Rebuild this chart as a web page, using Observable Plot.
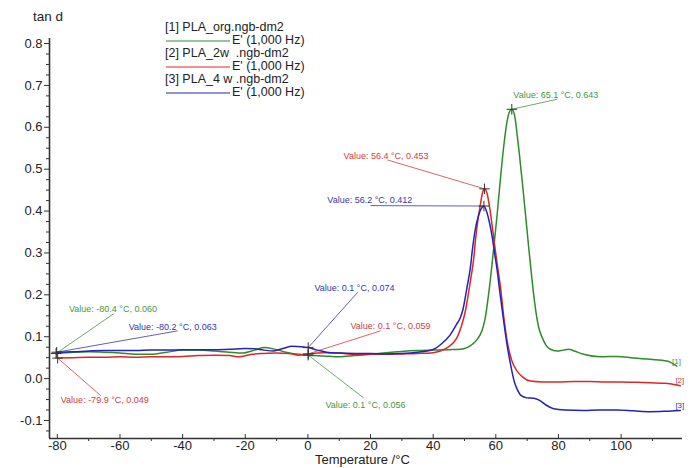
<!DOCTYPE html>
<html><head><meta charset="utf-8">
<script src="https://cdn.jsdelivr.net/npm/d3@7"></script>
<script src="https://cdn.jsdelivr.net/npm/@observablehq/plot@0.6"></script>
<style>
body{margin:0;background:#fff;}
#chart svg{display:block;}
</style></head><body><div id="chart"></div>
<script>
// ---- data ----
const seriesNames = ["[1] PLA_org.ngb-dm2", "[2] PLA_2w  .ngb-dm2", "[3] PLA_4 w .ngb-dm2"];
const seriesSub = "E' (1,000 Hz)";
const endTags = ["[1]", "[2]", "[3]"];
const colors = ["#2e8b2e", "#e02626", "#2323b8"];
const annColors = ["#3f973f", "#d23c3c", "#3636ac"];

const greenT = [-80.4,-75,-70,-65,-60,-55,-50,-45,-40,-35,-30,-25,-21,-17,-14,-11,-7,-3,0.1,5,10,15,20,25,30,35,40,45,48.7,50.8,52.5,54,55.6,56.5,58,59.3,60.4,61.5,62.5,63.5,64.3,65.1,66,67,68.4,69.5,70.5,71.5,72.6,73.6,74.8,76,77.4,79.5,81.5,83.3,85,88,93.4,98.7,104,109.3,114.6,117.8];
const greenV = [0.060,0.063,0.064,0.063,0.061,0.058,0.058,0.063,0.068,0.068,0.066,0.063,0.061,0.068,0.074,0.071,0.063,0.058,0.056,0.054,0.052,0.055,0.058,0.062,0.065,0.067,0.068,0.069,0.070,0.074,0.082,0.093,0.115,0.14,0.22,0.31,0.39,0.48,0.553,0.61,0.636,0.643,0.628,0.57,0.473,0.39,0.313,0.24,0.17,0.125,0.098,0.08,0.070,0.066,0.068,0.070,0.066,0.058,0.052,0.053,0.049,0.046,0.042,0.030];

const redT = [-79.9,-75,-70,-65,-60,-55,-50,-45,-40,-35,-30,-25,-22,-18,-14,-10,-6,-3,0.1,5,10,15,20,25,30,35,40,42.3,44.5,46.5,47.6,49,50.3,51.9,53,53.5,54.3,55.1,55.8,56.4,57.2,58.2,59.3,60.4,61.5,62.5,63.6,65,66.8,68.5,71,75,80,85,90,95,100,105,109.3,114,118.9];
const redV = [0.049,0.050,0.051,0.051,0.052,0.051,0.052,0.052,0.053,0.055,0.056,0.055,0.052,0.058,0.060,0.061,0.060,0.056,0.059,0.062,0.061,0.058,0.058,0.058,0.059,0.060,0.062,0.066,0.074,0.086,0.098,0.125,0.162,0.234,0.290,0.33,0.38,0.417,0.445,0.453,0.442,0.40,0.337,0.275,0.218,0.15,0.090,0.045,0.018,0.004,-0.006,-0.008,-0.008,-0.007,-0.007,-0.008,-0.008,-0.009,-0.010,-0.011,-0.017];

const blueT = [-80.2,-75,-70,-65,-60,-55,-50,-45,-40,-35,-30,-25,-20,-17,-14,-11,-8,-5,-2,0.1,3,6,10,15,20,25,30,35,38,40.2,42.5,45.5,47.5,48.7,49.5,50.8,51.9,52.4,53.3,54.5,55.3,56.2,57,57.9,58.8,59.6,60.4,61.4,62.5,63.6,64.7,66,66.8,68,70,72.1,74,76,78.5,82,88,93,98.7,104,109.3,114,118.9];
const blueV = [0.063,0.064,0.066,0.067,0.067,0.067,0.068,0.068,0.069,0.069,0.069,0.070,0.072,0.071,0.068,0.066,0.072,0.077,0.076,0.074,0.068,0.063,0.061,0.060,0.060,0.059,0.060,0.063,0.066,0.070,0.082,0.105,0.13,0.146,0.165,0.218,0.266,0.300,0.35,0.39,0.405,0.412,0.40,0.375,0.340,0.300,0.260,0.20,0.138,0.08,0.034,-0.010,-0.025,-0.040,-0.046,-0.047,-0.052,-0.063,-0.072,-0.075,-0.076,-0.075,-0.075,-0.077,-0.079,-0.078,-0.076];

// annotations: series index, point, label anchor, leader-line end
const annSeries = [0, 1, 2, 0, 2, 1, 2, 1, 0];
const annText = ["Value: 65.1 °C, 0.643","Value: 56.4 °C, 0.453","Value: 56.2 °C, 0.412","Value: -80.4 °C, 0.060","Value: -80.2 °C, 0.063","Value: -79.9 °C, 0.049","Value: 0.1 °C, 0.074","Value: 0.1 °C, 0.059","Value: 0.1 °C, 0.056"];
const annPT = [65.1, 56.4, 56.2, -80.4, -80.2, -79.9, 0.1, 0.1, 0.1];
const annPV = [0.643, 0.453, 0.412, 0.060, 0.063, 0.049, 0.074, 0.059, 0.056];
const annLT = [65.6, 11.4, 6.2, -76.3, -57.2, -78.9, 2.1, 13.6, 5.6];
const annLV = [0.678, 0.532, 0.425, 0.167, 0.124, -0.052, 0.215, 0.126, -0.063];
const annET = [79.6, 25.4, 20.0, -62.0, -41.6, -66.1, 15.9, 23.2, 17.8];
const annEV = [0.667, 0.522, 0.413, 0.155, 0.114, -0.041, 0.206, 0.114, -0.046];

const xDomain = [-82.5, 119.6];
const yDomain = [-0.143, 0.812];
const xMajor = [-80,-60,-40,-20,0,20,40,60,80,100];
const xMinor = [-70,-50,-30,-10,10,30,50,70,90,110];
const yMajor = [-0.1,0.0,0.1,0.2,0.3,0.4,0.5,0.6,0.7,0.8];
const yMinor = d3.range(-0.125, 0.81, 0.025).filter(v => Math.abs(Math.round(v*10) - v*10) > 0.01);

// ---- build ----
const series = [[greenT, greenV], [redT, redV], [blueT, blueV]].map(([T, V], s) =>
  T.map((t, i) => ({T: t, v: V[i], s})));
const ann = annText.map((t, i) => ({text: t, s: annSeries[i], pt: annPT[i], pv: annPV[i], lt: annLT[i], lv: annLV[i], et: annET[i], ev: annEV[i]}));
const ends = series.map((rows, s) => ({...rows[rows.length - 1], tag: endTags[s]}));

const font = "'Liberation Sans', Arial, sans-serif";
const marks = [
  Plot.axisY({ticks: yMinor, tickSize: 3, tickFormat: () => "", label: null, stroke: "#333"}),
  Plot.axisY({ticks: yMajor, tickSize: 5, tickPadding: 2, tickFormat: d => d.toFixed(1), label: null, fontSize: 13, stroke: "#333"}),
  Plot.axisX({ticks: xMinor, tickSize: 3, tickFormat: () => "", label: null, stroke: "#333"}),
  Plot.axisX({ticks: xMajor, tickSize: 5, tickPadding: 1, dy: -4, tickFormat: d => String(d), label: null, fontSize: 13, stroke: "#333"}),
  Plot.ruleX([xDomain[0]], {stroke: "#333", strokeWidth: 1.6}),
  Plot.ruleY([yDomain[0]], {stroke: "#333", strokeWidth: 1.6}),
  Plot.link(ann, {x1: "pt", y1: "pv", x2: "et", y2: "ev", stroke: d => annColors[d.s], strokeWidth: 0.8}),
  ...series.map((rows, s) => Plot.line(rows, {x: "T", y: "v", stroke: colors[s], strokeWidth: 1.5, curve: "monotone-x"})),
  Plot.dot(ann, {x: "pt", y: "pv", symbol: "plus", r: 3.5, stroke: "#333", strokeWidth: 1}),
  Plot.text(ann, {x: "lt", y: "lv", text: "text", fill: d => annColors[d.s], textAnchor: "start", fontSize: 9}),
  Plot.text(ends, {x: "T", y: "v", text: "tag", fill: d => annColors[d.s], textAnchor: "end", dx: 4, dy: -5, fontSize: 8})
];

const chart = Plot.plot({
  width: 693, height: 468,
  marginLeft: 49, marginRight: 11, marginTop: 38, marginBottom: 30,
  x: {domain: xDomain},
  y: {domain: yDomain},
  style: {fontFamily: font, background: "#fff", color: "#222", overflow: "visible"},
  marks
});
document.getElementById("chart").appendChild(chart);

// legend and axis titles (layout)
const svg = d3.select(chart);
const g = svg.append("g").attr("font-family", font).attr("fill", "#222").attr("text-anchor", "start");
g.append("text").attr("x", 33).attr("y", 21).attr("font-size", 13.5).text("tan d");
g.append("text").attr("x", 315).attr("y", 464).attr("font-size", 13).text("Temperature /°C");
const rowY = [27, 53, 79];
seriesNames.forEach((name, i) => {
  g.append("text").attr("x", 165).attr("y", rowY[i]).attr("dy", "0.35em").attr("font-size", 12.5).style("white-space", "pre").text(name);
  g.append("line").attr("x1", 166).attr("x2", 230).attr("y1", rowY[i] + 14).attr("y2", rowY[i] + 14).attr("stroke", colors[i]).attr("stroke-width", 1);
  g.append("text").attr("x", 232).attr("y", rowY[i] + 13).attr("dy", "0.35em").attr("font-size", 12.5).text(seriesSub);
});
</script></body></html>
